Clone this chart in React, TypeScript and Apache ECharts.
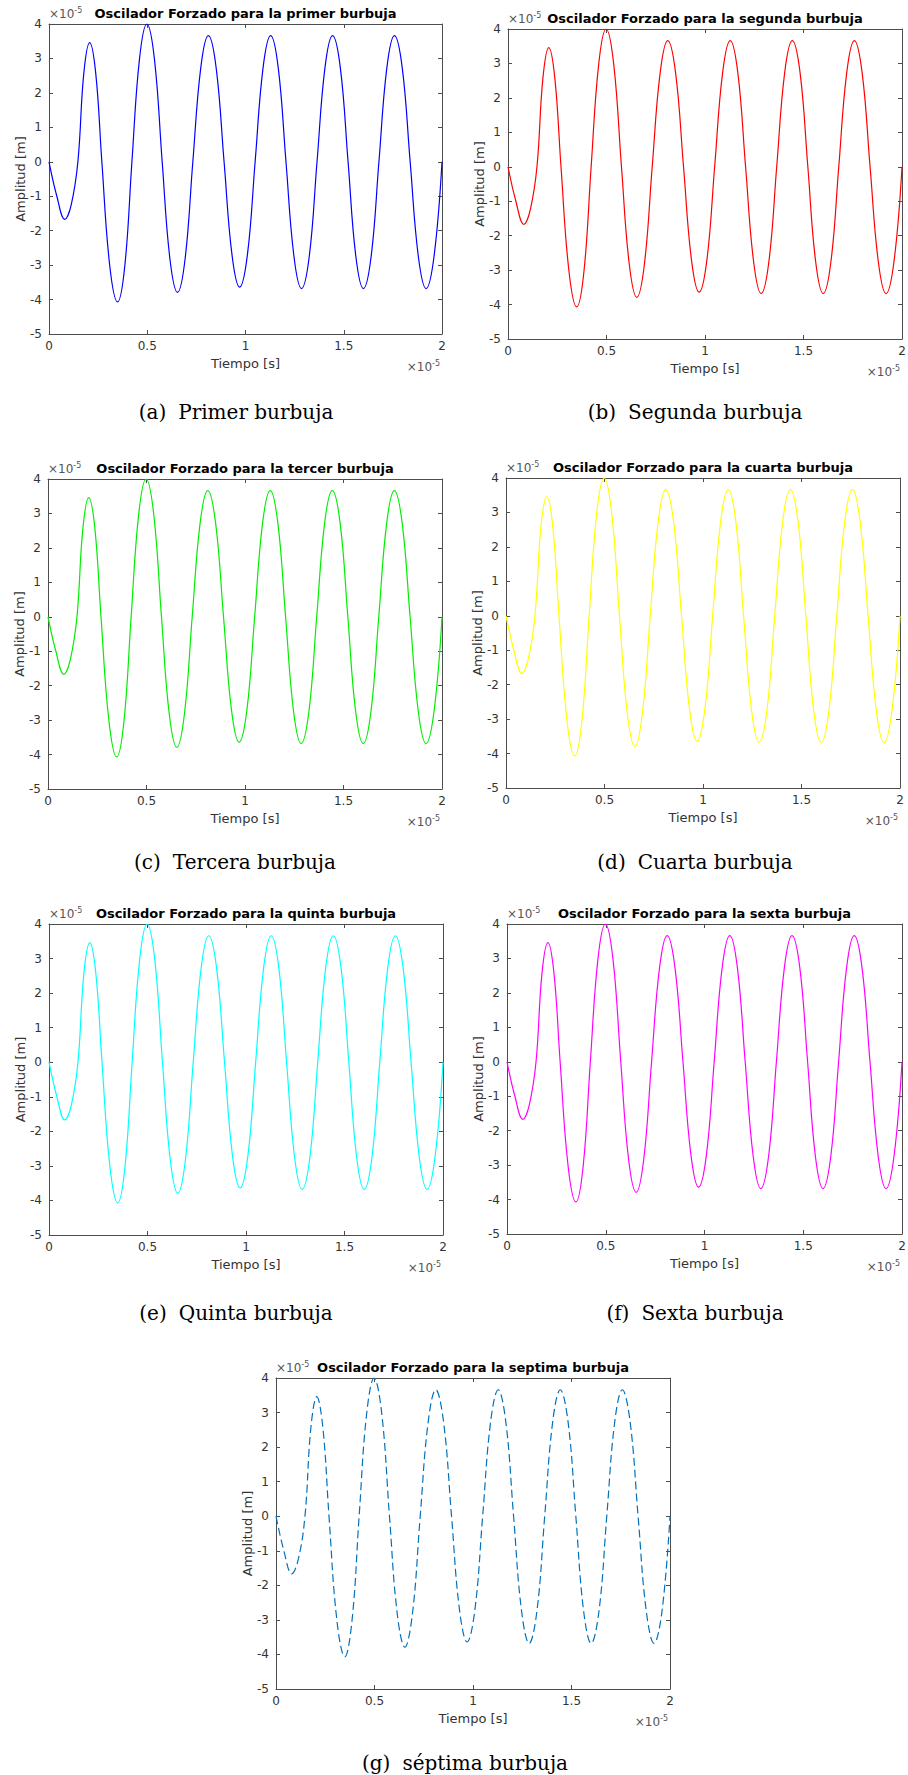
import React, { useEffect, useRef } from "react";
import * as echarts from "echarts";

// Time axis values, in units of 1e-5 s (as displayed, ×10^-5)
const tiempo = [
  0, 0.04, 0.08, 0.113, 0.147, 0.177, 0.207, 0.238, 0.269, 0.309, 0.349, 0.386, 0.422,
  0.46, 0.498, 0.537, 0.576, 0.615, 0.654, 0.693, 0.732, 0.772, 0.811, 0.851, 0.891,
  0.931, 0.97, 1.01, 1.049, 1.089, 1.128, 1.167, 1.206, 1.246, 1.285, 1.325, 1.364,
  1.404, 1.443, 1.483, 1.522, 1.561, 1.6, 1.64, 1.679, 1.719, 1.758, 1.798, 1.838,
  1.879, 1.919, 1.96, 2.0,
];

// Amplitude values, in units of 1e-5 m (as displayed, ×10^-5)
const amplitud = [
  0, -1.0, -1.67, -1.25, 0, 2.56, 3.46, 2.56, 0, -3.01, -4.07, -3.01, 0,
  2.96, 4.0, 2.96, 0, -2.8, -3.79, -2.8, 0, 2.71, 3.66, 2.71, 0,
  -2.69, -3.64, -2.69, 0, 2.71, 3.66, 2.71, 0, -2.72, -3.68, -2.72, 0,
  2.71, 3.66, 2.71, 0, -2.72, -3.68, -2.72, 0, 2.71, 3.66, 2.71, 0,
  -2.72, -3.68, -2.72, 0,
];

const titulos = [
  "Oscilador Forzado para la primer burbuja",
  "Oscilador Forzado para la segunda burbuja",
  "Oscilador Forzado para la tercer burbuja",
  "Oscilador Forzado para la cuarta burbuja",
  "Oscilador Forzado para la quinta burbuja",
  "Oscilador Forzado para la sexta burbuja",
  "Oscilador Forzado para la septima burbuja",
];

const etiquetas = ["(a)", "(b)", "(c)", "(d)", "(e)", "(f)", "(g)"];
const subtitulos = [
  "Primer burbuja",
  "Segunda burbuja",
  "Tercera burbuja",
  "Cuarta burbuja",
  "Quinta burbuja",
  "Sexta burbuja",
  "séptima burbuja",
];

const xLimits = [0, 2];
const xStep = 0.5;
const yLimits = [-5, 4];
const yStep = 1;
const xName = "Tiempo [s]";
const yName = "Amplitud [m]";
const exponent = "-5";

// layout / style (not data)
const panels = [
  { L: 49, T: 24, W: 393, H: 310, color: "#0000ff", dash: false, cx: 236, cy: 412 },
  { L: 508, T: 29, W: 394, H: 310, color: "#ff0000", dash: false, cx: 695, cy: 412 },
  { L: 48, T: 479, W: 394, H: 310, color: "#00ee00", dash: false, cx: 235, cy: 862 },
  { L: 506, T: 478, W: 394, H: 310, color: "#ffff00", dash: false, cx: 695, cy: 862 },
  { L: 49, T: 924, W: 394, H: 311, color: "#00ffff", dash: false, cx: 236, cy: 1313 },
  { L: 507, T: 924, W: 395, H: 310, color: "#ff00ff", dash: false, cx: 695, cy: 1313 },
  { L: 276, T: 1378, W: 394, H: 311, color: "#0072bd", dash: true, cx: 465, cy: 1763 },
];

const SANS = '"DejaVu Sans", sans-serif';
const SERIF = '"DejaVu Serif", serif';
const AXIS_COLOR = "#4d4d4d";
const LABEL_COLOR = "#333333";

function buildOption() {
  const grid: any[] = [];
  const xAxis: any[] = [];
  const yAxis: any[] = [];
  const series: any[] = [];
  const graphic: any[] = [];
  const pts = tiempo.map((t, k) => [t, amplitud[k]]);

  panels.forEach((p, i) => {
    grid.push({
      left: p.L,
      top: p.T,
      width: p.W,
      height: p.H,
      show: false,
      containLabel: false,
      outerBoundsMode: "none",
    });
    const lineStyle = { color: AXIS_COLOR, width: 1 };
    const tick = { show: true, inside: true, length: 4, lineStyle: { color: AXIS_COLOR, width: 1 } };
    xAxis.push({
      gridIndex: i,
      type: "value",
      position: "bottom",
      min: xLimits[0],
      max: xLimits[1],
      interval: xStep,
      axisLine: { show: true, onZero: false, lineStyle },
      axisTick: tick,
      splitLine: { show: false },
      axisLabel: { show: true, color: LABEL_COLOR, fontSize: 12, fontFamily: SANS, margin: 6 },
      name: xName,
      nameLocation: "middle",
      nameGap: 23,
      nameMoveOverlap: false,
      nameTextStyle: { color: LABEL_COLOR, fontSize: 13, fontFamily: SANS },
    });
    xAxis.push({
      gridIndex: i,
      type: "value",
      position: "top",
      min: xLimits[0],
      max: xLimits[1],
      interval: xStep,
      axisLine: { show: true, onZero: false, lineStyle },
      axisTick: tick,
      splitLine: { show: false },
      axisLabel: { show: false },
    });
    yAxis.push({
      gridIndex: i,
      type: "value",
      position: "left",
      min: yLimits[0],
      max: yLimits[1],
      interval: yStep,
      axisLine: { show: true, onZero: false, lineStyle },
      axisTick: tick,
      splitLine: { show: false },
      axisLabel: { show: true, color: LABEL_COLOR, fontSize: 12, fontFamily: SANS, margin: 7 },
      name: yName,
      nameLocation: "middle",
      nameGap: 22,
      nameMoveOverlap: false,
      nameTextStyle: { color: LABEL_COLOR, fontSize: 13, fontFamily: SANS },
    });
    yAxis.push({
      gridIndex: i,
      type: "value",
      position: "right",
      min: yLimits[0],
      max: yLimits[1],
      interval: yStep,
      axisLine: { show: true, onZero: false, lineStyle },
      axisTick: tick,
      splitLine: { show: false },
      axisLabel: { show: false },
    });
    series.push({
      type: "line",
      xAxisIndex: 2 * i,
      yAxisIndex: 2 * i,
      data: pts,
      showSymbol: false,
      symbol: "none",
      smooth: 0.4,
      silent: true,
      clip: true,
      lineStyle: { color: p.color, width: 1.2, type: p.dash ? [8, 4] : "solid" },
    });

    // title
    graphic.push({
      type: "text",
      x: p.L + p.W / 2,
      y: p.T - 11,
      silent: true,
      style: {
        text: titulos[i],
        font: `bold 13px ${SANS}`,
        fill: "#000",
        align: "center",
        verticalAlign: "middle",
      },
    });
    const expRich = {
      m: { fontSize: 12, fontFamily: SANS, fill: "#555", verticalAlign: "bottom", lineHeight: 14 },
      s: { fontSize: 8, fontFamily: SANS, fill: "#555", verticalAlign: "top", lineHeight: 10 },
    };
    // exponent top-left
    graphic.push({
      type: "text",
      x: p.L,
      y: p.T - 11,
      silent: true,
      style: {
        text: `{m|×10}{s|${exponent}}`,
        rich: expRich,
        align: "left",
        verticalAlign: "middle",
      },
    });
    // exponent bottom-right
    graphic.push({
      type: "text",
      x: p.L + p.W - 2,
      y: p.T + p.H + 32,
      silent: true,
      style: {
        text: `{m|×10}{s|${exponent}}`,
        rich: expRich,
        align: "right",
        verticalAlign: "middle",
      },
    });
    // caption
    graphic.push({
      type: "text",
      x: p.cx,
      y: p.cy,
      silent: true,
      style: {
        text: `{l|${etiquetas[i]}}{t|${subtitulos[i]}}`,
        rich: {
          l: { fontSize: 20, fontFamily: SERIF, fill: "#000", padding: [0, 12, 0, 0] },
          t: { fontSize: 20, fontFamily: SERIF, fill: "#000" },
        },
        align: "center",
        verticalAlign: "middle",
      },
    });
  });

  return {
    animation: false,
    backgroundColor: "#ffffff",
    grid,
    xAxis,
    yAxis,
    series,
    graphic,
  };
}

export default function App() {
  const ref = useRef<HTMLDivElement | null>(null);
  useEffect(() => {
    if (!ref.current) return;
    const chart = echarts.init(ref.current, null, { renderer: "svg" });
    chart.setOption(buildOption() as any);
    return () => chart.dispose();
  }, []);
  return (
    <div
      ref={ref}
      style={{ position: "absolute", left: 0, top: 0, width: 908, height: 1775, background: "#fff" }}
    />
  );
}
